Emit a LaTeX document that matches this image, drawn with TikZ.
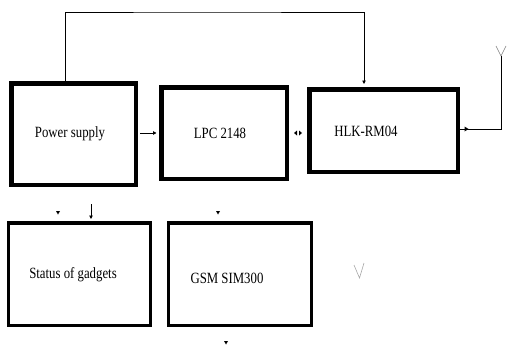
\documentclass[tikz,border=0pt]{standalone}
\usepackage{fontspec}
\setmainfont{Liberation Serif}
\usetikzlibrary{arrows.meta}
\newcommand{\stretchtxt}[1]{\scalebox{1}[1.22]{#1}}
\begin{document}
\begin{tikzpicture}[x=1pt,y=-1pt,
  topbox/.style={draw, line width=4.5pt, inner sep=0pt},
  lowbox/.style={draw, line width=3pt, inner sep=0pt},
  lbl/.style={inner sep=0pt, font=\fontsize{12.8}{14}\selectfont},
  conn/.style={line width=0.9pt},
  tip/.style={-{Triangle[length=3.5pt,width=3.5pt]}},
  head/.style={fill=black}]
\useasboundingbox (0,0) rectangle (507,364);
% boxes
\node[topbox, minimum width=124.5pt, minimum height=101.5pt] (ps) at (73.5,134) {};
\node[topbox, minimum width=125.5pt, minimum height=91.5pt] (lpc) at (224,133) {};
\node[topbox, minimum width=148.5pt, minimum height=82.5pt] (hlk) at (383.5,130.5) {};
\node[lowbox, minimum width=142pt, minimum height=102pt] (st) at (79.5,274.5) {};
\node[lowbox, minimum width=143pt, minimum height=102pt] (gsm) at (240,274.5) {};
\draw[line width=4.5pt] ([yshift=-0.75pt]st.north west) -- ([yshift=-0.75pt]st.north east);
\draw[line width=4.5pt] ([yshift=-0.75pt]gsm.north west) -- ([yshift=-0.75pt]gsm.north east);
% labels
\node[lbl] (pst) at (70,134) {\stretchtxt{Power supply}};
\node[lbl] (lpct) at (220,133) {\stretchtxt{LPC 2148}};
\node[lbl] (hlkt) at (366,131) {\stretchtxt{HLK-RM04}};
\node[lbl] (stt) at (73,275) {\stretchtxt{Status of gadgets}};
\node[lbl] (gsmt) at (227,278) {\stretchtxt{GSM SIM300}};
% top feed line
\coordinate (top) at (200,12);
\draw[conn, tip, shorten >=3pt] ([xshift=-8.5pt]ps.north) |- (top) -| ([xshift=-19.5pt]hlk.north);
% power supply to LPC
\draw[conn, tip, shorten >=2.5pt, shorten <=2pt] (lpc.west -| ps.east) -- (lpc.west);
% bidirectional heads between LPC and HLK
\fill[head] ([xshift=5pt]lpc.east) -- ++(3,-2.5) -- ++(0,5) -- cycle;
\fill[head] ([xshift=-5pt]lpc.east -| hlk.west) -- ++(-3,-2.5) -- ++(0,5) -- cycle;
% HLK to antenna
\coordinate (ant) at (501,56);
\draw[conn] ([yshift=1.5pt]hlk.east) -| (ant);
\fill[head] ([xshift=4.5pt,yshift=1.5pt]hlk.east) -- ++(0,-2.5) -- ++(4,2.5) -- ++(-4,2.5) -- cycle;
\draw[gray, line width=0.6pt] (ant) -- ++(-5,-10) (ant) -- ++(5,-10);
% lower row marks
\fill[head] ([xshift=-21.5pt,yshift=7.5pt]st.north) -- ++(-2,-3.5) -- ++(4,0) -- cycle;
\draw[conn, tip] ([xshift=11.5pt,yshift=18pt]st.north) -- ([xshift=11.5pt,yshift=3pt]st.north);
\fill[head] ([xshift=-22pt,yshift=7.5pt]gsm.north) -- ++(-2,-3.5) -- ++(4,0) -- cycle;
\fill[head] ([xshift=-14pt,yshift=-17.5pt]gsm.south) -- ++(-2,-3.5) -- ++(4,0) -- cycle;
\draw[gray!70, line width=0.6pt] (354,265) -- (359.5,278) -- (364,263);
\end{tikzpicture}
\end{document}
